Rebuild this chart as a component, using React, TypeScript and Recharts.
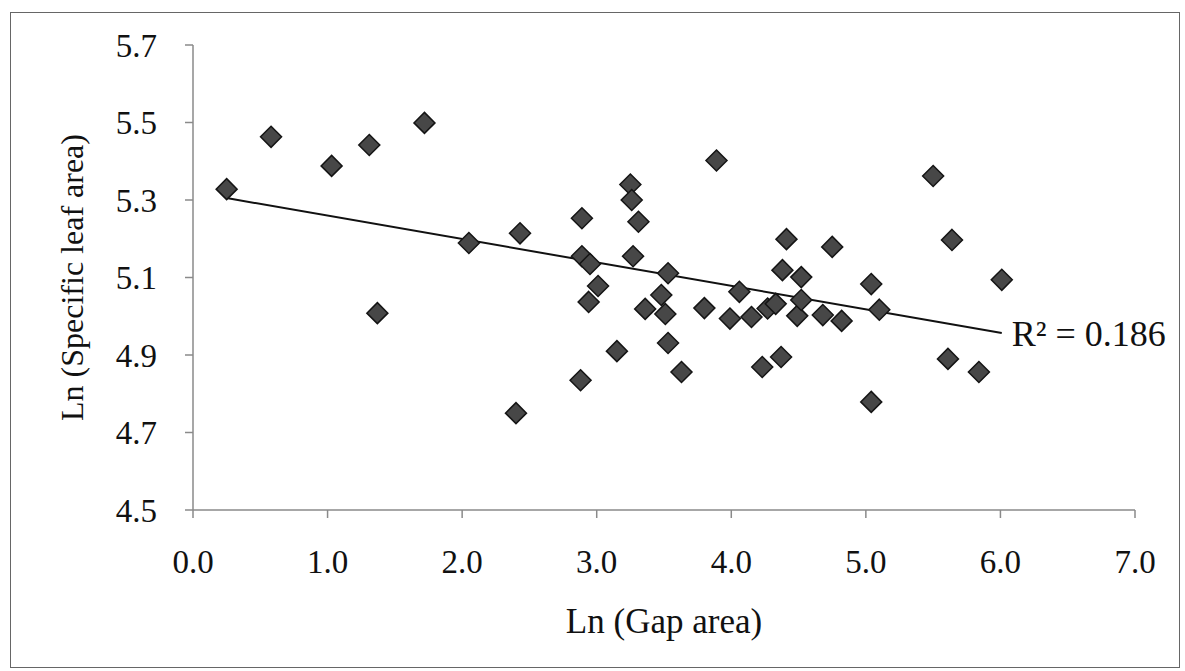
import {
  ScatterChart,
  Scatter,
  XAxis,
  YAxis,
  ReferenceLine,
  ReferenceDot,
  Label,
} from "recharts";

// Ln(Gap area) vs Ln(Specific leaf area)
const gapArea = [
  0.25, 0.58, 1.03, 1.31, 1.37, 1.72, 2.05, 2.4, 2.43, 2.88, 2.89, 2.89, 2.95,
  2.94, 3.01, 3.15, 3.25, 3.26, 3.27, 3.31, 3.36, 3.48, 3.51, 3.53, 3.53, 3.63,
  3.8, 3.89, 3.99, 4.06, 4.15, 4.23, 4.27, 4.33, 4.37, 4.38, 4.41, 4.49, 4.52,
  4.52, 4.68, 4.75, 4.82, 5.04, 5.04, 5.1, 5.5, 5.61, 5.64, 5.84, 6.01,
];
const specificLeafArea = [
  5.328, 5.463, 5.388, 5.442, 5.008, 5.499, 5.189, 4.75, 5.214, 4.835, 5.253,
  5.155, 5.135, 5.037, 5.078, 4.91, 5.34, 5.3, 5.155, 5.244, 5.019, 5.055,
  5.006, 5.111, 4.931, 4.856, 5.021, 5.402, 4.994, 5.063, 4.998, 4.869, 5.02,
  5.032, 4.895, 5.119, 5.199, 5.001, 5.101, 5.042, 5.003, 5.179, 4.988, 5.083,
  4.779, 5.017, 5.362, 4.89, 5.197, 4.856, 5.094,
];

// linear trend line end points
const trendX = [0.25, 6.01];
const trendY = [5.305, 4.957];
const rSquaredText = "R\u00b2 = 0.186";

const xTicks = [0, 1, 2, 3, 4, 5, 6, 7];
const yTicks = [4.5, 4.7, 4.9, 5.1, 5.3, 5.5, 5.7];

const points = gapArea.map((x, i) => ({ x, y: specificLeafArea[i] }));

const FONT = "'Liberation Serif', 'Times New Roman', serif";
const AXIS_COLOR = "#8a8a8a";

function Diamond(props: any) {
  const { cx, cy } = props;
  const h = 10.5;
  return (
    <path
      d={`M${cx},${cy - h} L${cx + h},${cy} L${cx},${cy + h} L${cx - h},${cy} Z`}
      fill="#474747"
      stroke="#151515"
      strokeWidth={1.5}
    />
  );
}

function YTitle(props: any) {
  const { viewBox } = props;
  const cx = viewBox.x + 9;
  const cy = viewBox.y + viewBox.height / 2;
  return (
    <text
      x={cx}
      y={cy}
      transform={`rotate(-90 ${cx} ${cy})`}
      textAnchor="middle"
      dominantBaseline="central"
      fontSize={32}
      fontFamily={FONT}
      fill="#111"
    >
      Ln (Specific leaf area)
    </text>
  );
}

export default function App() {
  const tickStyle = { fontSize: 33, fill: "#111", fontFamily: FONT };
  return (
    <div style={{ position: "absolute", left: 0, top: 0, width: 1185, height: 671, background: "#fff" }}>
      <div
        style={{
          position: "absolute",
          left: 10,
          top: 12,
          width: 1168,
          height: 654,
          border: "1.5px solid #666",
        }}
      />
      <ScatterChart
        width={1185}
        height={671}
        margin={{ top: 45, right: 50, left: 63, bottom: 91 }}
        style={{ position: "absolute", left: 0, top: 0 }}
      >
        <XAxis
          type="number"
          dataKey="x"
          domain={[0, 7]}
          ticks={xTicks}
          tickFormatter={(v: number) => v.toFixed(1)}
          height={70}
          tick={tickStyle}
          tickSize={8}
          tickMargin={32}
          axisLine={{ stroke: AXIS_COLOR, strokeWidth: 1.5 }}
          tickLine={{ stroke: AXIS_COLOR, strokeWidth: 1.5 }}
        >
          <Label
            value="Ln (Gap area)"
            position="bottom"
            offset={28}
            style={{ fontSize: 35, fill: "#111", fontFamily: FONT }}
          />
        </XAxis>
        <YAxis
          type="number"
          dataKey="y"
          domain={[4.5, 5.7]}
          ticks={yTicks}
          tickFormatter={(v: number) => v.toFixed(1)}
          width={130}
          tick={tickStyle}
          tickSize={8}
          tickMargin={28}
          axisLine={{ stroke: AXIS_COLOR, strokeWidth: 1.5 }}
          tickLine={{ stroke: AXIS_COLOR, strokeWidth: 1.5 }}
        >
          <Label content={<YTitle />} />
        </YAxis>
        <ReferenceLine
          segment={[
            { x: trendX[0], y: trendY[0] },
            { x: trendX[1], y: trendY[1] },
          ]}
          stroke="#111"
          strokeWidth={2}
        />
        <Scatter data={points} shape={<Diamond />} isAnimationActive={false} />
        <ReferenceDot
          x={trendX[1]}
          y={trendY[1]}
          r={0}
          stroke="none"
          fill="none"
          label={{
            value: rSquaredText,
            position: "right",
            offset: 10,
            fontSize: 36,
            fill: "#111",
            fontFamily: FONT,
          }}
        />
      </ScatterChart>
    </div>
  );
}
